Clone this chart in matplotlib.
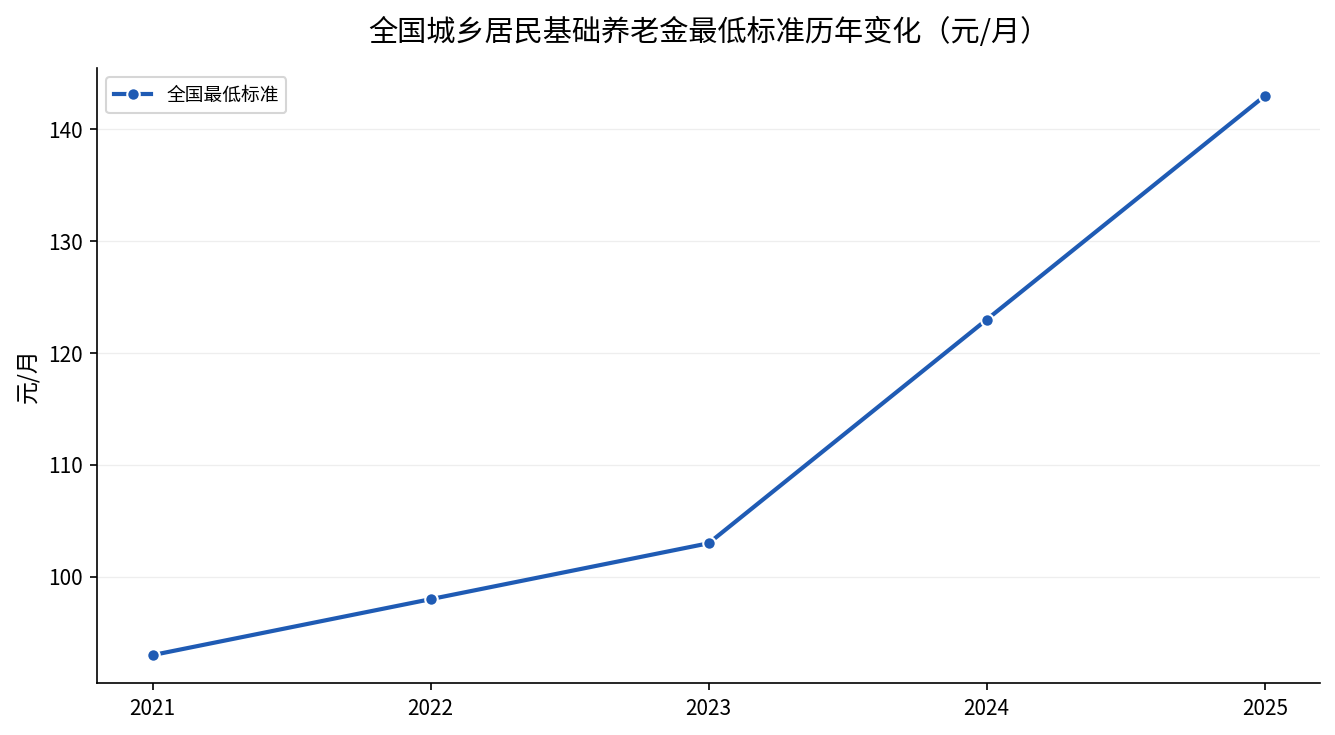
import matplotlib
matplotlib.use("Agg")
import matplotlib.pyplot as plt

plt.rcParams['font.family'] = ['Noto Sans CJK SC', 'DejaVu Sans']

years = [2021, 2022, 2023, 2024, 2025]
amount = [93, 98, 103, 123, 143]

fig, ax = plt.subplots(figsize=(8.9, 4.9), dpi=150)
fig.subplots_adjust(left=0.0727, right=0.989, top=0.9075, bottom=0.0707)

ax.plot(years, amount, color='#1f5bb4', linewidth=2, marker='o', markersize=6,
        markeredgecolor='white', markeredgewidth=1, label='全国最低标准')

ax.set_title('全国城乡居民基础养老金最低标准历年变化（元/月）', fontsize=14, pad=13)
ax.set_ylabel('元/月', fontsize=11)
ax.set_xticks(years)
ax.set_xticklabels([str(y) for y in years])
ax.tick_params(labelsize=10)
ax.grid(axis='y', color='#eeeeee', linewidth=0.6)
ax.set_axisbelow(True)
ax.spines['top'].set_visible(False)
ax.spines['right'].set_visible(False)
ax.legend(loc='upper left', fontsize=9)

fig.savefig('out.png', dpi=150)
